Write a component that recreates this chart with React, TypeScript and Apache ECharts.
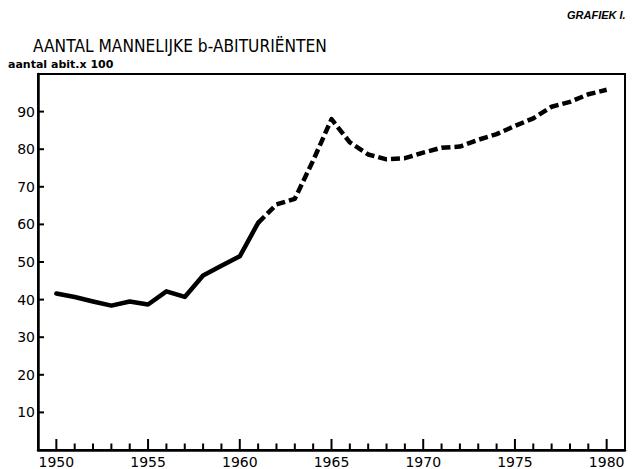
import React, { useEffect, useRef } from "react";
import * as echarts from "echarts";

const years = [1950, 1951, 1952, 1953, 1954, 1955, 1956, 1957, 1958, 1959, 1960, 1961, 1962, 1963, 1964, 1965, 1966, 1967, 1968, 1969, 1970, 1971, 1972, 1973, 1974, 1975, 1976, 1977, 1978, 1979, 1980];
const values = [41.6, 40.7, 39.5, 38.4, 39.5, 38.7, 42.2, 40.7, 46.4, 49.0, 51.5, 60.4, 65.3, 66.8, 77.0, 88.0, 81.8, 78.6, 77.3, 77.6, 79.1, 80.4, 80.7, 82.5, 84.0, 86.2, 88.2, 91.3, 92.6, 94.6, 95.8];
const solidUntilYear = 1961;
const xLabelYears = [1950, 1955, 1960, 1965, 1970, 1975, 1980];
const yTicks = [10, 20, 30, 40, 50, 60, 70, 80, 90];

const titleText = "AANTAL MANNELIJKE b-ABITURIËNTEN";
const unitText = "aantal abit.x 100";
const figText = "GRAFIEK I.";

const X_MIN = 1949;
const X_MAX = 1981;

export default function App() {
  const ref = useRef<HTMLDivElement>(null);
  useEffect(() => {
    if (!ref.current) return;
    const chart = echarts.init(ref.current, null, { renderer: "svg" });
    const solid = years.map((y, i) => [y, values[i]]).filter((p) => p[0] <= solidUntilYear);
    const dashed = years.map((y, i) => [y, values[i]]).filter((p) => p[0] >= solidUntilYear);
    const font = "'DejaVu Sans', sans-serif";
    chart.setOption({
      animation: false,
      backgroundColor: "#fff",
      grid: {
        left: 38,
        right: 16,
        top: 74,
        bottom: 19,
        containLabel: false,
        outerBoundsMode: "none",
        show: true,
        borderColor: "#000",
        borderWidth: 2,
        backgroundColor: "transparent",
      },
      xAxis: {
        type: "value",
        min: X_MIN,
        max: X_MAX,
        splitLine: { show: false },
        axisLine: { show: true, lineStyle: { color: "#000", width: 2.5 } },
        axisTick: { show: false },
        axisLabel: {
          show: true,
          customValues: xLabelYears,
          color: "#000",
          fontSize: 14,
          fontFamily: font,
          margin: 5,
          formatter: (v: number) => String(v),
        },
      },
      yAxis: {
        type: "value",
        min: 0,
        max: 100,
        splitLine: { show: false },
        axisLine: { show: true, lineStyle: { color: "#000", width: 2.5 } },
        axisTick: { show: false },
        axisLabel: {
          show: true,
          customValues: yTicks,
          color: "#000",
          fontSize: 14,
          fontFamily: font,
          margin: 3,
          formatter: (v: number) => String(v),
        },
      },
      series: [
        {
          type: "custom",
          clip: false,
          silent: true,
          data: years.map((y) => [y, 0]),
          renderItem: (params: any, api: any) => {
            const v = api.value(0);
            const p = api.coord([v, 0]);
            const len = xLabelYears.indexOf(v) >= 0 ? 11 : 6.5;
            return {
              type: "line",
              shape: { x1: p[0], y1: p[1], x2: p[0], y2: p[1] - len },
              style: { stroke: "#000", lineWidth: 2 },
            };
          },
        },
        {
          type: "custom",
          clip: false,
          silent: true,
          data: yTicks.map((t) => [X_MIN, t]),
          renderItem: (params: any, api: any) => {
            const p = api.coord([X_MIN, api.value(1)]);
            return {
              type: "line",
              shape: { x1: p[0], y1: p[1], x2: p[0] + 6, y2: p[1] },
              style: { stroke: "#000", lineWidth: 2 },
            };
          },
        },
        {
          type: "line",
          data: solid,
          showSymbol: false,
          symbol: "none",
          lineStyle: { color: "#000", width: 4.5, type: "solid", join: "round", cap: "round" },
        },
        {
          type: "line",
          data: dashed,
          showSymbol: false,
          symbol: "none",
          lineStyle: { color: "#000", width: 4.5, type: [9, 4], join: "round" },
        },
      ],
      graphic: [
        {
          type: "text",
          x: 33,
          y: 37,
          scaleX: 0.86,
          style: { text: titleText, fontSize: 18, fontFamily: font, fill: "#000" },
        },
        {
          type: "text",
          x: 8,
          y: 59,
          style: { text: unitText, fontSize: 11, fontWeight: "bold", fontFamily: font, fill: "#000" },
        },
        {
          type: "text",
          x: 567,
          y: 9,
          style: { text: figText, fontSize: 11, fontWeight: "bold", fontStyle: "italic", fontFamily: "'Liberation Sans', sans-serif", fill: "#000" },
        },
      ],
    });
    return () => chart.dispose();
  }, []);
  return <div ref={ref} style={{ width: 641, height: 469, position: "absolute", left: 0, top: 0 }} />;
}
